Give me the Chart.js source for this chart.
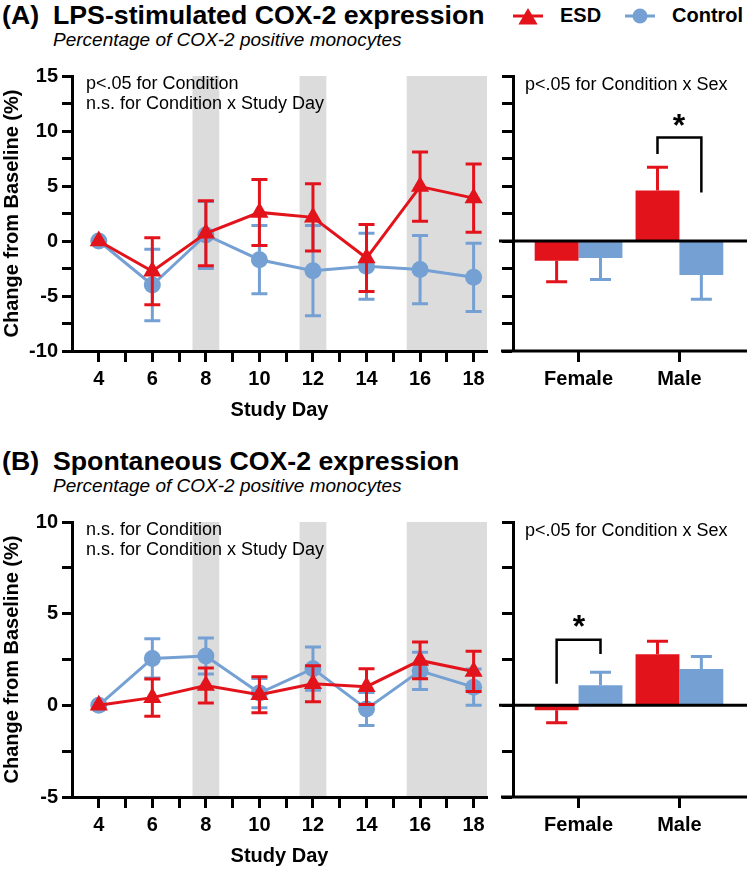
<!DOCTYPE html>
<html>
<head>
<meta charset="utf-8">
<script src="https://cdn.jsdelivr.net/npm/chart.js@4.4.1/dist/chart.umd.min.js"></script>
<style>
  html, body { margin: 0; padding: 0; overflow: hidden; background: #fff; }
  body { width: 750px; height: 871px; position: relative; font-family: 'Liberation Sans', Arial, sans-serif; color: #000; }
  .panel { position: absolute; left: 0; width: 750px; height: 430px; }
  .panel canvas { position: absolute; top: 0; }
  .txt { position: absolute; white-space: nowrap; }
  .head { top: 0; font-size: 26.7px; font-weight: bold; line-height: 30px; }
  .sub { left: 53px; top: 28.5px; font-size: 19px; font-style: italic; line-height: 22px; }
  .note { font-size: 18px; line-height: 20px; }
  .leg { top: 2.5px; font-size: 20px; font-weight: bold; line-height: 24px; }
  .star { width: 40px; text-align: center; font-size: 32px; font-weight: bold; line-height: 32px; }
</style>
</head>
<body>

<div class="panel" style="top:0">
  <div class="txt head" style="left:2px">(A)</div>
  <div class="txt head" style="left:53px">LPS-stimulated COX-2 expression</div>
  <div class="txt sub">Percentage of COX-2 positive monocytes</div>
  <svg style="position:absolute;left:510px;top:0" width="40" height="30">
    <line x1="3" y1="16" x2="33" y2="16" stroke="#e3131b" stroke-width="3"/>
    <polygon points="18,8 27.6,24.6 8.4,24.6" fill="#e3131b"/>
  </svg>
  <div class="txt leg" style="left:560px">ESD</div>
  <svg style="position:absolute;left:622px;top:0" width="36" height="30">
    <line x1="3" y1="16" x2="33" y2="16" stroke="#74a0d3" stroke-width="3"/>
    <circle cx="18" cy="16" r="7.5" fill="#74a0d3"/>
  </svg>
  <div class="txt leg" style="left:672px">Control</div>
  <canvas id="lps-line" width="500" height="430" style="left:0"></canvas>
  <canvas id="lps-sex" width="260" height="430" style="left:490px"></canvas>
  <div class="txt note" style="left:86px;top:72.5px">p&lt;.05 for Condition<br>n.s. for Condition x Study Day</div>
  <div class="txt note" style="left:525px;top:74px">p&lt;.05 for Condition x Sex</div>
  <div class="txt star" style="left:659px;top:109px">*</div>
</div>

<div class="panel" style="top:446px">
  <div class="txt head" style="left:2px">(B)</div>
  <div class="txt head" style="left:53px">Spontaneous COX-2 expression</div>
  <div class="txt sub">Percentage of COX-2 positive monocytes</div>
  <canvas id="spont-line" width="500" height="430" style="left:0"></canvas>
  <canvas id="spont-sex" width="260" height="430" style="left:490px"></canvas>
  <div class="txt note" style="left:86px;top:72.5px">n.s. for Condition<br>n.s. for Condition x Study Day</div>
  <div class="txt note" style="left:525px;top:74px">p&lt;.05 for Condition x Sex</div>
  <div class="txt star" style="left:559px;top:163.5px">*</div>
</div>

<script>
const RED = '#e3131b';
const BLUE = '#74a0d3';
const BAND = '#dcdcdc';

const studyDays = [4, 6, 8, 10, 12, 14, 16, 18];
const dayTicks = [4, 5, 6, 7, 8, 9, 10, 11, 12, 13, 14, 15, 16, 17, 18];
const sexes = ['Female', 'Male'];
const bandStart = [7.5, 11.5, 15.5];
const bandEnd = [8.5, 12.5, 18.5];

// (A) LPS-stimulated, change from baseline (%), mean and SEM
const esdLps = [0, -2.75, 0.7, 2.6, 2.15, -1.55, 4.95, 3.9];
const esdLpsSem = [0, 3.05, 2.95, 3.0, 3.05, 3.05, 3.15, 3.1];
const ctrlLps = [0, -4.0, 0.55, -1.7, -2.7, -2.3, -2.6, -3.3];
const ctrlLpsSem = [0, 3.25, 3.05, 3.1, 4.1, 3.0, 3.1, 3.1];
const esdLpsSex = [-1.8, 4.6];
const esdLpsSexSem = [1.9, 2.1];
const ctrlLpsSex = [-1.55, -3.1];
const ctrlLpsSexSem = [1.95, 2.2];

// (B) Spontaneous
const esdSpont = [0, 0.42, 1.08, 0.58, 1.18, 1.02, 2.45, 1.85];
const esdSpontSem = [0, 1.02, 0.95, 0.98, 0.98, 0.98, 1.0, 1.1];
const ctrlSpont = [0, 2.56, 2.69, 0.67, 2.0, -0.2, 1.88, 0.99];
const ctrlSpontSem = [0, 1.07, 0.98, 0.8, 1.18, 0.9, 1.02, 0.99];
const esdSpontSex = [-0.27, 2.78];
const esdSpontSexSem = [0.68, 0.71];
const ctrlSpontSex = [1.09, 1.98];
const ctrlSpontSexSem = [0.71, 0.69];

// significance brackets (y in data units)
const lpsBracket = { cat: 1, top: 9.4, left: 7.9, right: 4.4 };
const spontBracket = { cat: 0, top: 3.58, left: 1.18, right: 2.8 };

Chart.defaults.font.family = "'Liberation Sans', Arial, sans-serif";
Chart.defaults.color = '#000';

function yOf(d) {
  return typeof d === 'object' ? d.y : d;
}

function drawErrors(chart, index, capWidth, oneSided) {
  const ds = chart.data.datasets[index];
  if (!ds.errors) return;
  const meta = chart.getDatasetMeta(index);
  const yScale = chart.scales.y;
  const ctx = chart.ctx;
  ctx.save();
  ctx.strokeStyle = ds.borderColor || ds.backgroundColor;
  ctx.lineWidth = 3;
  meta.data.forEach((el, i) => {
    const err = ds.errors[i];
    if (!err) return;
    const v = yOf(ds.data[i]);
    let y1, y2;
    const ends = [];
    if (oneSided) {
      const dir = v >= 0 ? 1 : -1;
      y1 = el.y;
      y2 = yScale.getPixelForValue(v + dir * err);
      ends.push(y2);
    } else {
      y1 = yScale.getPixelForValue(v + err);
      y2 = yScale.getPixelForValue(v - err);
      ends.push(y1, y2);
    }
    ctx.beginPath();
    ctx.moveTo(el.x, y1);
    ctx.lineTo(el.x, y2);
    ends.forEach(y => {
      ctx.moveTo(el.x - capWidth / 2, y);
      ctx.lineTo(el.x + capWidth / 2, y);
    });
    ctx.stroke();
  });
  ctx.restore();
}

const errorBars = {
  id: 'errorBars',
  beforeDatasetDraw(chart, args) {
    if (chart.config.type === 'line') drawErrors(chart, args.index, 16, false);
  },
  afterDatasetDraw(chart, args) {
    if (chart.config.type === 'bar') drawErrors(chart, args.index, 21, true);
  }
};

const bands = {
  id: 'bands',
  beforeDraw(chart) {
    if (chart.config.type !== 'line') return;
    const { ctx, chartArea } = chart;
    const x = chart.scales.x;
    ctx.save();
    ctx.fillStyle = BAND;
    bandStart.forEach((s, i) => {
      const x0 = x.getPixelForValue(s);
      const x1 = x.getPixelForValue(bandEnd[i]);
      ctx.fillRect(x0, chartArea.top, x1 - x0, chartArea.bottom - chartArea.top);
    });
    ctx.restore();
  }
};

const barDecor = {
  id: 'barDecor',
  afterDatasetsDraw(chart, args, opts) {
    if (chart.config.type !== 'bar') return;
    const { ctx, chartArea } = chart;
    const y = chart.scales.y;
    ctx.save();
    ctx.strokeStyle = '#000';
    ctx.lineWidth = 3;
    // zero line and bottom axis, both running a little past the y axis
    ctx.beginPath();
    const y0 = y.getPixelForValue(0);
    ctx.moveTo(chartArea.left - 14, y0);
    ctx.lineTo(chartArea.right, y0);
    ctx.moveTo(chartArea.left - 12, chartArea.bottom);
    ctx.lineTo(chartArea.right, chartArea.bottom);
    ctx.stroke();

    const b = opts.bracket;
    if (b) {
      const xl = chart.getDatasetMeta(0).data[b.cat].x;
      const xr = chart.getDatasetMeta(1).data[b.cat].x;
      ctx.lineWidth = 2.5;
      ctx.beginPath();
      ctx.moveTo(xl, y.getPixelForValue(b.left));
      ctx.lineTo(xl, y.getPixelForValue(b.top));
      ctx.lineTo(xr, y.getPixelForValue(b.top));
      ctx.lineTo(xr, y.getPixelForValue(b.right));
      ctx.stroke();
    }
    ctx.restore();
  }
};

Chart.register(errorBars, bands, barDecor);

const tickFont = { size: 20, weight: 'bold' };

function renderLineChart(canvasId, esd, esdSem, ctrl, ctrlSem, yMin, yMax) {
  const ctx = document.getElementById(canvasId).getContext('2d');
  return new Chart(ctx, {
    type: 'line',
    data: {
      datasets: [
        {
          label: 'ESD',
          data: studyDays.map((d, i) => ({ x: d, y: esd[i] })),
          errors: esdSem,
          borderColor: RED,
          backgroundColor: RED,
          borderWidth: 3,
          pointStyle: 'triangle',
          pointRadius: 10.5,
          pointBorderWidth: 0,
          pointBackgroundColor: RED,
          tension: 0
        },
        {
          label: 'Control',
          data: studyDays.map((d, i) => ({ x: d, y: ctrl[i] })),
          errors: ctrlSem,
          borderColor: BLUE,
          backgroundColor: BLUE,
          borderWidth: 3,
          pointStyle: 'circle',
          pointRadius: 8.5,
          pointBorderWidth: 0,
          pointBackgroundColor: BLUE,
          tension: 0
        }
      ]
    },
    options: {
      responsive: false,
      animation: false,
      layout: { padding: { top: 76, right: 13, left: 0, bottom: 0 } },
      plugins: { legend: { display: false }, tooltip: { enabled: false } },
      scales: {
        x: {
          type: 'linear',
          min: 3,
          max: 18.5,
          afterBuildTicks: s => { s.ticks = dayTicks.map(v => ({ value: v })); },
          afterFit: s => { s.height = 79; },
          grid: { drawOnChartArea: false, tickLength: 11, tickWidth: 3, tickColor: '#000' },
          border: { display: true, color: '#000', width: 3 },
          ticks: {
            autoSkip: false,
            maxRotation: 0,
            padding: 5,
            font: tickFont,
            callback: v => (v % 2 === 0 ? String(v) : '')
          },
          title: { display: true, text: 'Study Day', font: tickFont, padding: { top: 0, bottom: 8 } }
        },
        y: {
          min: yMin,
          max: yMax,
          afterFit: s => { s.width = 72; },
          grid: { drawOnChartArea: false, tickLength: 10, tickWidth: 3, tickColor: '#000' },
          border: { display: true, color: '#000', width: 3 },
          ticks: {
            stepSize: 2.5,
            padding: 4,
            font: tickFont,
            callback: v => (v % 5 === 0 ? String(v) : '')
          },
          title: { display: true, text: 'Change from Baseline (%)', font: tickFont, padding: { top: 0, bottom: 0 } }
        }
      }
    }
  });
}

function renderSexChart(canvasId, esd, esdSem, ctrl, ctrlSem, yMin, yMax, bracket) {
  const ctx = document.getElementById(canvasId).getContext('2d');
  return new Chart(ctx, {
    type: 'bar',
    data: {
      datasets: [
        {
          label: 'ESD',
          data: sexes.map((s, i) => ({ x: i, y: esd[i] })),
          errors: esdSem,
          backgroundColor: RED,
          borderColor: RED,
          borderWidth: 0,
          categoryPercentage: 0.87,
          barPercentage: 1
        },
        {
          label: 'Control',
          data: sexes.map((s, i) => ({ x: i, y: ctrl[i] })),
          errors: ctrlSem,
          backgroundColor: BLUE,
          borderColor: BLUE,
          borderWidth: 0,
          categoryPercentage: 0.87,
          barPercentage: 1
        }
      ]
    },
    options: {
      responsive: false,
      animation: false,
      layout: { padding: { top: 76, right: 3, left: 0, bottom: 0 } },
      plugins: {
        legend: { display: false },
        tooltip: { enabled: false },
        barDecor: { bracket }
      },
      scales: {
        x: {
          type: 'linear',
          min: -0.65,
          max: 1.67,
          offset: false,
          afterBuildTicks: s => { s.ticks = sexes.map((_, i) => ({ value: i })); },
          afterFit: s => { s.height = 79; },
          grid: { offset: false, drawOnChartArea: false, tickLength: 11, tickWidth: 3, tickColor: '#000' },
          border: { display: false },
          ticks: {
            autoSkip: false,
            maxRotation: 0,
            padding: 5,
            font: tickFont,
            callback: v => (sexes[v] !== undefined ? sexes[v] : '')
          }
        },
        y: {
          min: yMin,
          max: yMax,
          afterFit: s => { s.width = 23; },
          grid: { drawOnChartArea: false, tickLength: 11, tickWidth: 3, tickColor: '#000' },
          border: { display: true, color: '#000', width: 3 },
          ticks: { stepSize: 2.5, callback: () => '' }
        }
      }
    }
  });
}

renderLineChart('lps-line', esdLps, esdLpsSem, ctrlLps, ctrlLpsSem, -10, 15);
renderSexChart('lps-sex', esdLpsSex, esdLpsSexSem, ctrlLpsSex, ctrlLpsSexSem, -10, 15, lpsBracket);
renderLineChart('spont-line', esdSpont, esdSpontSem, ctrlSpont, ctrlSpontSem, -5, 10);
renderSexChart('spont-sex', esdSpontSex, esdSpontSexSem, ctrlSpontSex, ctrlSpontSexSem, -5, 10, spontBracket);
</script>
</body>
</html>
